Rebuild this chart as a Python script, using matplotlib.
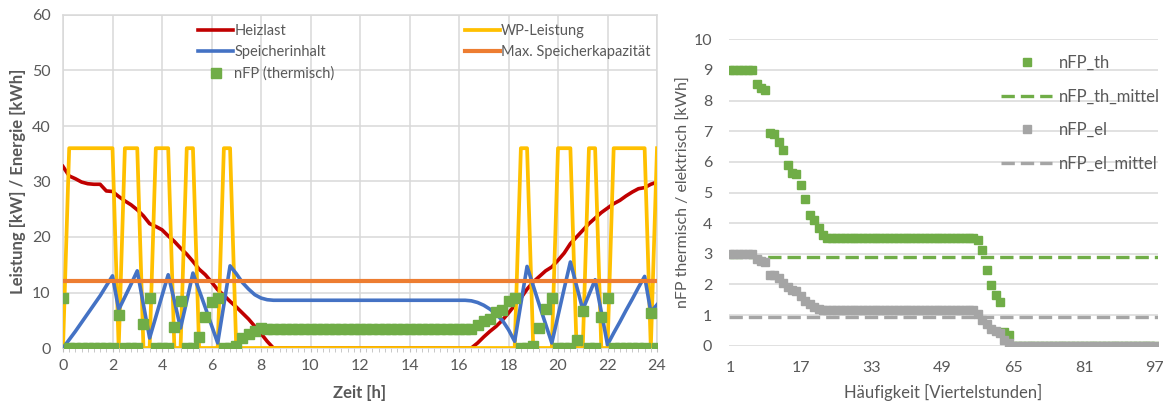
#!/usr/bin/env python3
"""Heizlast, WP-Leistung, Speicher und nFP über den Tag plus Dauerlinie nFP."""

import numpy as np
import matplotlib
matplotlib.use('Agg')
import matplotlib.pyplot as plt
from matplotlib.ticker import MultipleLocator

plt.rcParams['font.family'] = ['Lato', 'DejaVu Sans']

# --- Tagesverlauf (Viertelstunden 0 ... 24 h) ---
zeit = np.arange(97) / 4

heizlast = [
    32.7, 31.0, 30.5, 29.9, 29.6, 29.5, 29.5, 28.3, 28.2, 27.3, 26.5, 25.8, 24.9,
    23.8, 22.4, 21.9, 21.3, 20.2, 19.2, 18.0, 16.9, 15.6, 14.2, 13.2, 11.9, 10.5,
    9.5, 8.4, 7.4, 6.3, 5.2, 3.9, 2.6, 1.2, 0.0, 0.0, 0.0, 0.0, 0.0, 0.0, 0.0,
    0.0, 0.0, 0.0, 0.0, 0.0, 0.0, 0.0, 0.0, 0.0, 0.0, 0.0, 0.0, 0.0, 0.0, 0.0,
    0.0, 0.0, 0.0, 0.0, 0.0, 0.0, 0.0, 0.0, 0.0, 0.0, 0.0, 0.9, 2.0, 3.0, 3.9,
    5.0, 6.3, 7.7, 9.0, 10.6, 11.9, 12.9, 13.9, 14.6, 15.8, 17.1, 18.8, 20.0,
    21.2, 22.4, 23.4, 24.4, 25.2, 26.0, 26.6, 27.4, 28.1, 28.7, 28.9, 29.5, 29.9,
]

wp_leistung = [
    0, 36, 36, 36, 36, 36, 36, 36, 36, 0, 36, 36, 36, 0, 0, 36, 36, 36, 0, 0,
    36, 36, 0, 0, 0, 0, 36, 36, 0, 0, 0, 0, 0, 0, 0, 0, 0, 0, 0, 0, 0, 0,
    0, 0, 0, 0, 0, 0, 0, 0, 0, 0, 0, 0, 0, 0, 0, 0, 0, 0, 0, 0, 0, 0, 0, 0,
    0, 0, 0, 0, 0, 0, 0, 0, 36, 36, 0, 0, 0, 0, 36, 36, 36, 0, 0, 36, 36, 0,
    0, 36, 36, 36, 36, 36, 36, 0, 36,
]

speicherinhalt = [
    0.0, 1.5, 3.0, 4.6, 6.2, 7.8, 9.4, 11.2, 13.0, 6.9, 9.2, 11.5, 13.9, 7.8,
    1.8, 5.6, 9.4, 13.2, 8.5, 3.6, 8.5, 13.5, 10.4, 7.3, 4.1, 0.9, 7.8, 14.8,
    13.4, 11.8, 10.6, 9.6, 9.0, 8.7, 8.6, 8.6, 8.6, 8.6, 8.6, 8.6, 8.6, 8.6,
    8.6, 8.6, 8.6, 8.6, 8.6, 8.6, 8.6, 8.6, 8.6, 8.6, 8.6, 8.6, 8.6, 8.6, 8.6,
    8.6, 8.6, 8.6, 8.6, 8.6, 8.6, 8.6, 8.6, 8.6, 8.5, 8.2, 7.7, 7.0, 6.1, 5.0,
    3.3, 1.2, 8.0, 14.7, 11.2, 7.7, 4.3, 0.9, 5.8, 10.7, 15.5, 11.2, 6.9, 9.6,
    12.3, 6.5, 0.6, 2.7, 4.7, 6.8, 8.8, 10.9, 12.9, 6.5, 7.8,
]

max_speicher = 12

nfp_thermisch = [
    9.0, 0, 0, 0, 0, 0, 0, 0, 0, 5.9, 0, 0, 0, 4.25, 9.0, 0, 0, 0, 3.85, 8.4,
    0, 0, 2.0, 5.6, 8.35, 9.0, 0, 0, 0.3, 1.8, 2.45, 3.1, 3.6, 3.5, 3.5, 3.5,
    3.5, 3.5, 3.5, 3.5, 3.5, 3.5, 3.5, 3.5, 3.5, 3.5, 3.5, 3.5, 3.5, 3.5, 3.5,
    3.5, 3.5, 3.5, 3.5, 3.5, 3.5, 3.5, 3.5, 3.5, 3.5, 3.5, 3.5, 3.5, 3.5, 3.5,
    3.5, 4.1, 4.8, 5.25, 6.4, 6.9, 8.55, 9.0, 0, 0, 0.45, 3.6, 6.95, 9.0, 0, 0,
    0, 1.45, 6.65, 0, 0, 5.65, 9.0, 0, 0, 0, 0, 0, 0, 6.3, 0,
]

# --- Dauerlinie (sortiert, 97 Viertelstunden) ---
rang = np.arange(1, 98)

nfp_th = [
    9.0, 9.0, 9.0, 9.0, 9.0, 9.0, 8.55, 8.4, 8.35, 6.93, 6.9, 6.66, 6.4, 5.9,
    5.65, 5.6, 5.25, 4.8, 4.25, 4.1, 3.85, 3.6, 3.5, 3.5, 3.5, 3.5, 3.5, 3.5,
    3.5, 3.5, 3.5, 3.5, 3.5, 3.5, 3.5, 3.5, 3.5, 3.5, 3.5, 3.5, 3.5, 3.5, 3.5,
    3.5, 3.5, 3.5, 3.5, 3.5, 3.5, 3.5, 3.5, 3.5, 3.5, 3.5, 3.5, 3.5, 3.45, 3.12,
    2.47, 1.98, 1.65, 1.44, 0.45, 0.35, 0, 0, 0, 0, 0, 0, 0, 0, 0, 0, 0, 0, 0,
    0, 0, 0, 0, 0, 0, 0, 0, 0, 0, 0, 0, 0, 0, 0, 0, 0, 0, 0, 0,
]

nfp_el = [
    3.0, 3.0, 3.0, 3.0, 3.0, 3.0, 2.82, 2.78, 2.74, 2.31, 2.3, 2.2, 2.04, 1.9,
    1.83, 1.77, 1.62, 1.45, 1.35, 1.25, 1.2, 1.17, 1.15, 1.15, 1.15, 1.15, 1.15,
    1.15, 1.15, 1.15, 1.15, 1.15, 1.15, 1.15, 1.15, 1.15, 1.15, 1.15, 1.15, 1.15,
    1.15, 1.15, 1.15, 1.15, 1.15, 1.15, 1.15, 1.15, 1.15, 1.15, 1.15, 1.15, 1.15,
    1.15, 1.15, 1.15, 1.05, 0.85, 0.7, 0.55, 0.48, 0.42, 0.2, 0.08, 0, 0, 0, 0,
    0, 0, 0, 0, 0, 0, 0, 0, 0, 0, 0, 0, 0, 0, 0, 0, 0, 0, 0, 0, 0, 0, 0, 0,
    0, 0, 0, 0, 0,
]

nfp_th_mittel = 2.9
nfp_el_mittel = 0.93

TXT = '#595959'
GRID = '#D9D9D9'


def main():
    fig = plt.figure(figsize=(11.71, 4.07), dpi=100)
    ax1 = fig.add_axes([63 / 1171, 59 / 407, 594 / 1171, 333 / 407])
    ax2 = fig.add_axes([729 / 1171, 61.3 / 407, 429 / 1171, 306.4 / 407])

    # left: Tagesverlauf
    l_hl, = ax1.plot(zeit, heizlast, color='#C00000', lw=2.6, label='Heizlast',
                     solid_joinstyle='round', zorder=3)
    l_wp, = ax1.plot(zeit, wp_leistung, color='#FFC000', lw=2.7, label='WP-Leistung',
                     solid_joinstyle='round', zorder=4)
    l_sp, = ax1.plot(zeit, speicherinhalt, color='#4472C4', lw=2.6,
                     label='Speicherinhalt', solid_joinstyle='round', zorder=5)
    l_max = ax1.axhline(max_speicher, color='#ED7D31', lw=3.0,
                        label='Max. Speicherkapazität', zorder=6)
    l_nfp, = ax1.plot(zeit, nfp_thermisch, ls='none', marker='s', ms=6.5,
                      color='#70AD47', label='nFP (thermisch)', zorder=7)

    ax1.set_xlim(0, 24)
    ax1.set_ylim(0, 60)
    ax1.xaxis.set_major_locator(MultipleLocator(2))
    ax1.xaxis.set_minor_locator(MultipleLocator(0.25))
    ax1.yaxis.set_major_locator(MultipleLocator(10))
    ax1.grid(True, which='major', color=GRID, lw=1.1, zorder=0)
    ax1.set_axisbelow(True)
    for sp in ax1.spines.values():
        sp.set_color(GRID)
        sp.set_linewidth(1.1)
    ax1.tick_params(axis='x', which='both', direction='out', length=3, color='#BFBFBF',
                    labelsize=11.5, labelcolor=TXT, pad=5)
    ax1.tick_params(axis='y', length=0, labelsize=11.5, labelcolor=TXT, pad=9)
    ax1.set_xlabel('Zeit [h]', fontsize=12, fontweight='bold', color=TXT)
    ax1.set_ylabel('Leistung [kW] / Energie [kWh]', fontsize=12, fontweight='bold', color=TXT)
    ax1.xaxis.set_label_coords(0.5, -0.11)
    ax1.yaxis.set_label_coords(-0.062, 0.5)

    leg1 = ax1.legend(handles=[l_hl, l_sp, l_nfp], loc='upper left',
                      bbox_to_anchor=(0.215, 0.995), frameon=False, fontsize=10.5,
                      borderpad=0, handlelength=2.4, handletextpad=0.08,
                      labelspacing=0.5, labelcolor=TXT)
    ax1.add_artist(leg1)
    ax1.legend(handles=[l_wp, l_max], loc='upper left', bbox_to_anchor=(0.664, 0.995),
               frameon=False, fontsize=10.5, borderpad=0, handlelength=2.4,
               handletextpad=0.08, labelspacing=0.5, labelcolor=TXT)

    # right: Dauerlinie
    h_th, = ax2.plot(rang, nfp_th, ls='none', marker='s', ms=5.5, color='#70AD47',
                     label='nFP_th', zorder=3)
    h_thm = ax2.axhline(nfp_th_mittel, color='#70AD47', lw=2.4, ls=(0, (4, 1.8)),
                        label='nFP_th_mittel', zorder=4)
    h_el, = ax2.plot(rang, nfp_el, ls='none', marker='s', ms=5.5, color='#A5A5A5',
                     label='nFP_el', zorder=5)
    h_elm = ax2.axhline(nfp_el_mittel, color='#A5A5A5', lw=2.4, ls=(0, (4, 1.8)),
                        label='nFP_el_mittel', zorder=6)

    ax2.set_xlim(0.77, 97.7)
    ax2.set_ylim(0, 10)
    ax2.set_xticks([1, 17, 33, 49, 65, 81, 97])
    ax2.yaxis.set_major_locator(MultipleLocator(1))
    ax2.grid(True, axis='y', color=GRID, lw=1.1, zorder=0)
    ax2.set_axisbelow(True)
    for sp in ax2.spines.values():
        sp.set_visible(False)
    ax2.tick_params(axis='both', length=0, labelsize=11.5, labelcolor=TXT)
    ax2.tick_params(axis='y', pad=12)
    ax2.tick_params(axis='x', pad=11)
    ax2.set_xlabel('Häufigkeit [Viertelstunden]', fontsize=12, color=TXT)
    ax2.set_ylabel('nFP thermisch / elektrisch [kWh]', fontsize=11.5, color=TXT)
    ax2.xaxis.set_label_coords(0.5, -0.125)
    ax2.yaxis.set_label_coords(-0.088, 0.5)

    ax2.legend(handles=[h_th, h_thm, h_el, h_elm], loc='upper left',
               bbox_to_anchor=(0.614, 0.975), frameon=False, fontsize=12,
               borderpad=0, handlelength=3.1, handletextpad=0.4,
               labelspacing=1.05, labelcolor=TXT)

    fig.savefig('out.png', dpi=100)
    plt.close(fig)


if __name__ == '__main__':
    main()
